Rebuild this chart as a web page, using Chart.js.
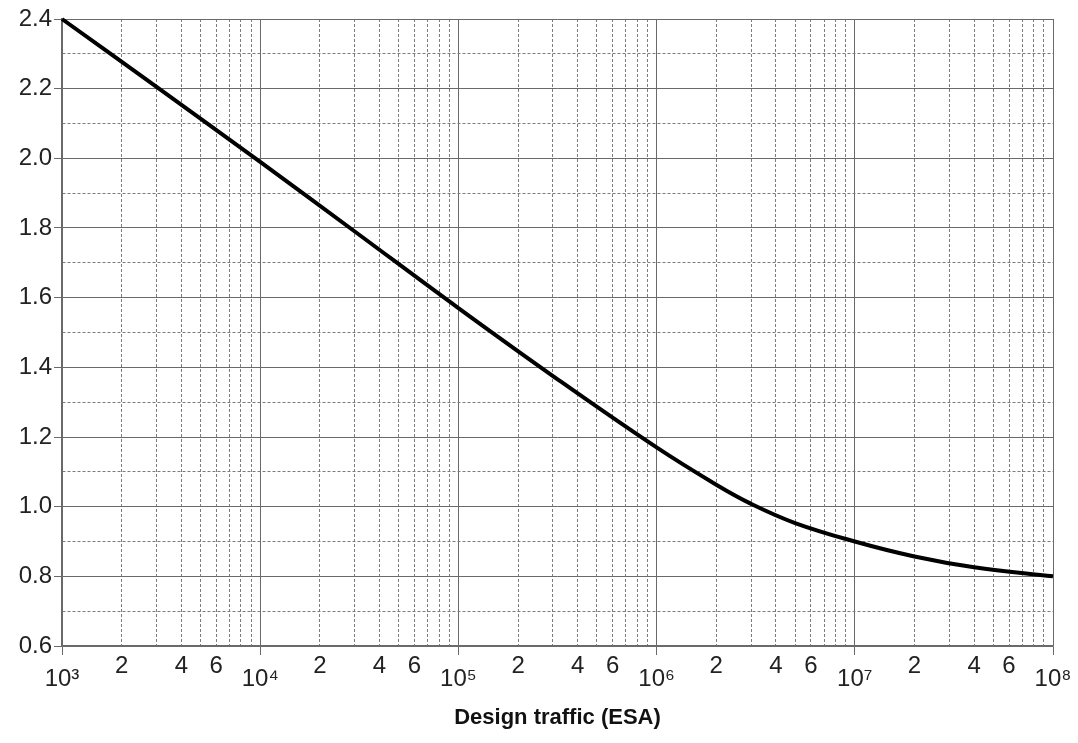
<!DOCTYPE html>
<html>
<head>
<meta charset="utf-8">
<title>Design traffic (ESA)</title>
<script src="https://cdn.jsdelivr.net/npm/chart.js@4.4.1/dist/chart.umd.min.js"></script>
<style>
  html, body { margin: 0; padding: 0; background: #fff; }
  #wrap { width: 1078px; height: 743px; }
</style>
</head>
<body>
<div id="wrap"><canvas id="designChart"></canvas></div>
<script>
// Curve (x = design traffic in ESA)
const trafficEsa = [1e3, 3e3, 1e4, 3e4, 1e5, 3e5, 1e6, 2e6, 3e6, 5e6, 1e7, 2e7, 4e7, 1e8];
const curveValues = [2.40, 2.205, 1.99, 1.79, 1.57, 1.375, 1.17, 1.063, 1.008, 0.953, 0.90, 0.857, 0.826, 0.80];

// Tick positions and labels
const xDecades = [1e3, 1e4, 1e5, 1e6, 1e7, 1e8];
const xMinorSteps = [2, 3, 4, 5, 6, 7, 8, 9];
const xLabelledSteps = [2, 4, 6];
const yTickValues = [0.6, 0.7, 0.8, 0.9, 1.0, 1.1, 1.2, 1.3, 1.4, 1.5, 1.6, 1.7, 1.8, 1.9, 2.0, 2.1, 2.2, 2.3, 2.4];
const yLabelEvery = 0.2;
const superscripts = { 3: '\u00B3', 4: '\u2074', 5: '\u2075', 6: '\u2076', 7: '\u2077', 8: '\u2078' };

const xTickValues = [];
xDecades.forEach((d, i) => {
    xTickValues.push(d);
    if (i < xDecades.length - 1) xMinorSteps.forEach(s => xTickValues.push(s * d));
});

const isDecade = (v) => {
    const e = Math.round(Math.log10(v));
    return Math.abs(v / Math.pow(10, e) - 1) < 1e-9;
};
const isYMajor = (v) => Math.abs(Math.round((v - 0.6) / yLabelEvery) * yLabelEvery - (v - 0.6)) < 1e-6;

const majorColor = '#6a6a6a';
const minorColor = '#7c7c7c';
const dashed = [3, 2];
const labelFont = '"Liberation Sans", Arial, sans-serif';

const ctx = document.getElementById('designChart').getContext('2d');
new Chart(ctx, {
    type: 'line',
    data: {
        datasets: [{
            data: trafficEsa.map((x, i) => ({ x: x, y: curveValues[i] })),
            borderColor: '#000',
            borderWidth: 4,
            pointRadius: 0,
            tension: 0.4,
            clip: 4
        }]
    },
    options: {
        responsive: true,
        maintainAspectRatio: false,
        animation: false,
        layout: { padding: { top: 19, right: 25, left: 0, bottom: 0 } },
        plugins: { legend: { display: false }, tooltip: { enabled: false } },
        scales: {
            x: {
                type: 'logarithmic',
                min: 1e3,
                max: 1e8,
                afterBuildTicks: (scale) => { scale.ticks = xTickValues.map(v => ({ value: v })); },
                afterFit: (scale) => { scale.height = 97; },
                ticks: {
                    autoSkip: false,
                    maxRotation: 0,
                    padding: 5,
                    color: '#222',
                    font: { family: labelFont, size: 24, lineHeight: 0.55 },
                    callback: (value) => {
                        if (isDecade(value)) {
                            const e = Math.round(Math.log10(value));
                            return ['', '10' + superscripts[e]];
                        }
                        const s = Math.round(value / Math.pow(10, Math.floor(Math.log10(value))));
                        return xLabelledSteps.includes(s) ? String(s) : '';
                    }
                },
                grid: {
                    color: (c) => c.tick && isDecade(c.tick.value) ? majorColor : minorColor,
                    lineWidth: 1,
                    tickLength: 9,
                    tickColor: (c) => c.tick && isDecade(c.tick.value) ? majorColor : 'rgba(0,0,0,0)',
                    tickWidth: (c) => c.tick && isDecade(c.tick.value) ? 1 : 0
                },
                border: {
                    color: '#6a6a6a',
                    width: 1.5,
                    dash: (c) => c.tick && !isDecade(c.tick.value) ? dashed : []
                },
                title: {
                    display: true,
                    text: 'Design traffic (ESA)',
                    color: '#111',
                    font: { family: labelFont, size: 22, weight: 'bold' },
                    padding: { top: 0, bottom: 12 }
                }
            },
            y: {
                type: 'linear',
                min: 0.6,
                max: 2.4,
                afterBuildTicks: (scale) => { scale.ticks = yTickValues.map(v => ({ value: v })); },
                afterFit: (scale) => { scale.width = 62; },
                ticks: {
                    padding: 2,
                    color: '#222',
                    font: { family: labelFont, size: 24 },
                    callback: (value) => isYMajor(value) ? value.toFixed(1) : ''
                },
                grid: {
                    color: (c) => c.tick && isYMajor(c.tick.value) ? majorColor : minorColor,
                    lineWidth: 1,
                    tickLength: 8,
                    tickColor: (c) => c.tick && isYMajor(c.tick.value) ? majorColor : 'rgba(0,0,0,0)',
                    tickWidth: (c) => c.tick && isYMajor(c.tick.value) ? 1 : 0
                },
                border: {
                    color: '#6a6a6a',
                    width: 1.5,
                    dash: (c) => c.tick && !isYMajor(c.tick.value) ? dashed : []
                }
            }
        }
    }
});
</script>
</body>
</html>
